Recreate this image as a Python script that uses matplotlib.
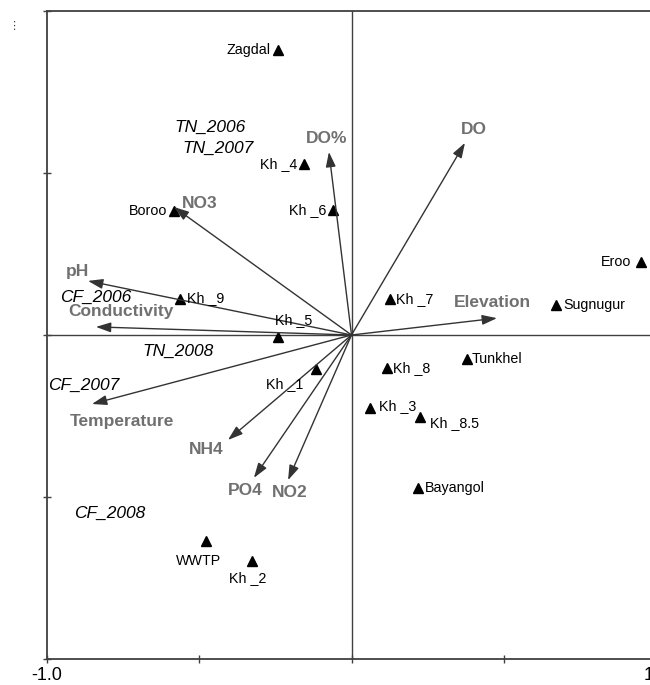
import matplotlib
matplotlib.use("Agg")
import matplotlib.pyplot as plt

plt.rcParams['font.family'] = ['Liberation Sans', 'DejaVu Sans']

# environmental variables (arrows)
env_names = ['DO', 'DO%', 'NO3', 'pH', 'Conductivity', 'Temperature',
             'NH4', 'PO4', 'NO2', 'Elevation']
env_x = [0.372, -0.074, -0.582, -0.864, -0.838, -0.851, -0.405, -0.320, -0.208, 0.477]
env_y = [0.593, 0.565, 0.395, 0.167, 0.025, -0.213, -0.324, -0.441, -0.448, 0.052]

# sites (triangles)
site_names = ['Zagdal', 'Kh _4', 'Kh _6', 'Boroo', 'Kh _9', 'Kh _5', 'Kh _1',
              'Kh _7', 'Eroo', 'Sugnugur', 'Tunkhel', 'Kh _8', 'Kh _3',
              'Kh _8.5', 'Bayangol', 'WWTP', 'Kh _2']
site_x = [-0.241, -0.156, -0.061, -0.582, -0.562, -0.241, -0.116,
          0.126, 0.949, 0.670, 0.379, 0.116, 0.061,
          0.225, 0.218, -0.477, -0.326]
site_y = [0.880, 0.528, 0.386, 0.383, 0.111, -0.006, -0.105,
          0.111, 0.225, 0.093, -0.074, -0.102, -0.225,
          -0.253, -0.472, -0.636, -0.698]

# supplementary samples (italic labels)
samp_names = ['TN_2006', 'TN_2007', 'CF_2006', 'TN_2008', 'CF_2007', 'CF_2008']
samp_x = [-0.464, -0.438, -0.838, -0.569, -0.877, -0.792]
samp_y = [0.642, 0.577, 0.117, -0.049, -0.157, -0.552]

# label offsets in pixels (dx, dy, ha)
env_off = {'DO': (9, 13, 'center'), 'DO%': (-2, 13, 'center'),
           'NO3': (8, 4, 'left'), 'pH': (-11, 9, 'center'),
           'Conductivity': (25, 15, 'center'), 'Temperature': (30, -17, 'center'),
           'NH4': (-22, -10, 'center'), 'PO4': (-9, -13, 'center'),
           'NO2': (2, -12, 'center'), 'Elevation': (-5, 16, 'center')}
site_off = {'Zagdal': (-7, 0, 'right'), 'Kh _4': (-7, 0, 'right'),
            'Kh _6': (-7, 0, 'right'), 'Boroo': (-7, 0, 'right'),
            'Kh _9': (7, 1, 'left'), 'Kh _5': (16, 17, 'center'),
            'Kh _1': (-31, -15, 'center'), 'Kh _7': (6, 0, 'left'),
            'Eroo': (-10, 0, 'right'), 'Sugnugur': (7, 0, 'left'),
            'Tunkhel': (5, 0, 'left'), 'Kh _8': (6, 0, 'left'),
            'Kh _3': (9, 2, 'left'), 'Kh _8.5': (10, -6, 'left'),
            'Bayangol': (7, 0, 'left'), 'WWTP': (-7, -20, 'center'),
            'Kh _2': (-4, -17, 'center')}

fig = plt.figure(figsize=(6.5, 6.85), dpi=100)
W, H = 650, 685
ax = fig.add_axes([46.5 / W, 26 / H, 610 / W, 648 / H])
ax.set_xlim(-1, 1)
ax.set_ylim(-1, 1)

for s in ax.spines.values():
    s.set_color('#404040')
    s.set_linewidth(1.3)

ax.axhline(0, color='#404040', lw=1)
ax.axvline(0, color='#404040', lw=1)

ax.set_xticks([-1, -0.5, 0, 0.5, 1])
ax.set_xticklabels(['-1.0', '', '', '', '1.0'])
ax.set_yticks([-1, -0.5, 0, 0.5, 1])
ax.set_yticklabels([])
ax.tick_params(direction='inout', length=6, width=1, color='#404040',
               labelsize=13, pad=3)

# arrows
for n, x, y in zip(env_names, env_x, env_y):
    ax.annotate('', xy=(x, y), xytext=(0, 0),
                arrowprops=dict(arrowstyle='-|>,head_length=0.9,head_width=0.3',
                                color='#333333', lw=1, shrinkA=0, shrinkB=0))
    dx, dy, ha = env_off[n]
    ax.annotate(n, xy=(x, y), xytext=(dx, dy), textcoords='offset pixels',
                ha=ha, va='center', fontsize=12.5, fontweight='bold',
                color='#707070')

# sites
ax.plot(site_x, site_y, '^', color='black', ms=7, ls='none')
for n, x, y in zip(site_names, site_x, site_y):
    dx, dy, ha = site_off[n]
    ax.annotate(n, xy=(x, y), xytext=(dx, dy), textcoords='offset pixels',
                ha=ha, va='center', fontsize=10.3, color='black')

# samples
for n, x, y in zip(samp_names, samp_x, samp_y):
    ax.text(x, y, n, ha='center', va='center', fontsize=12.5,
            fontstyle='italic', color='black')

# clipped stray mark at top-left
fig.text(14 / W, 1 - 26 / H, '⋮', fontsize=8, ha='center', va='center',
         color='#404040', family='DejaVu Sans')

fig.savefig('out.png', dpi=100)
